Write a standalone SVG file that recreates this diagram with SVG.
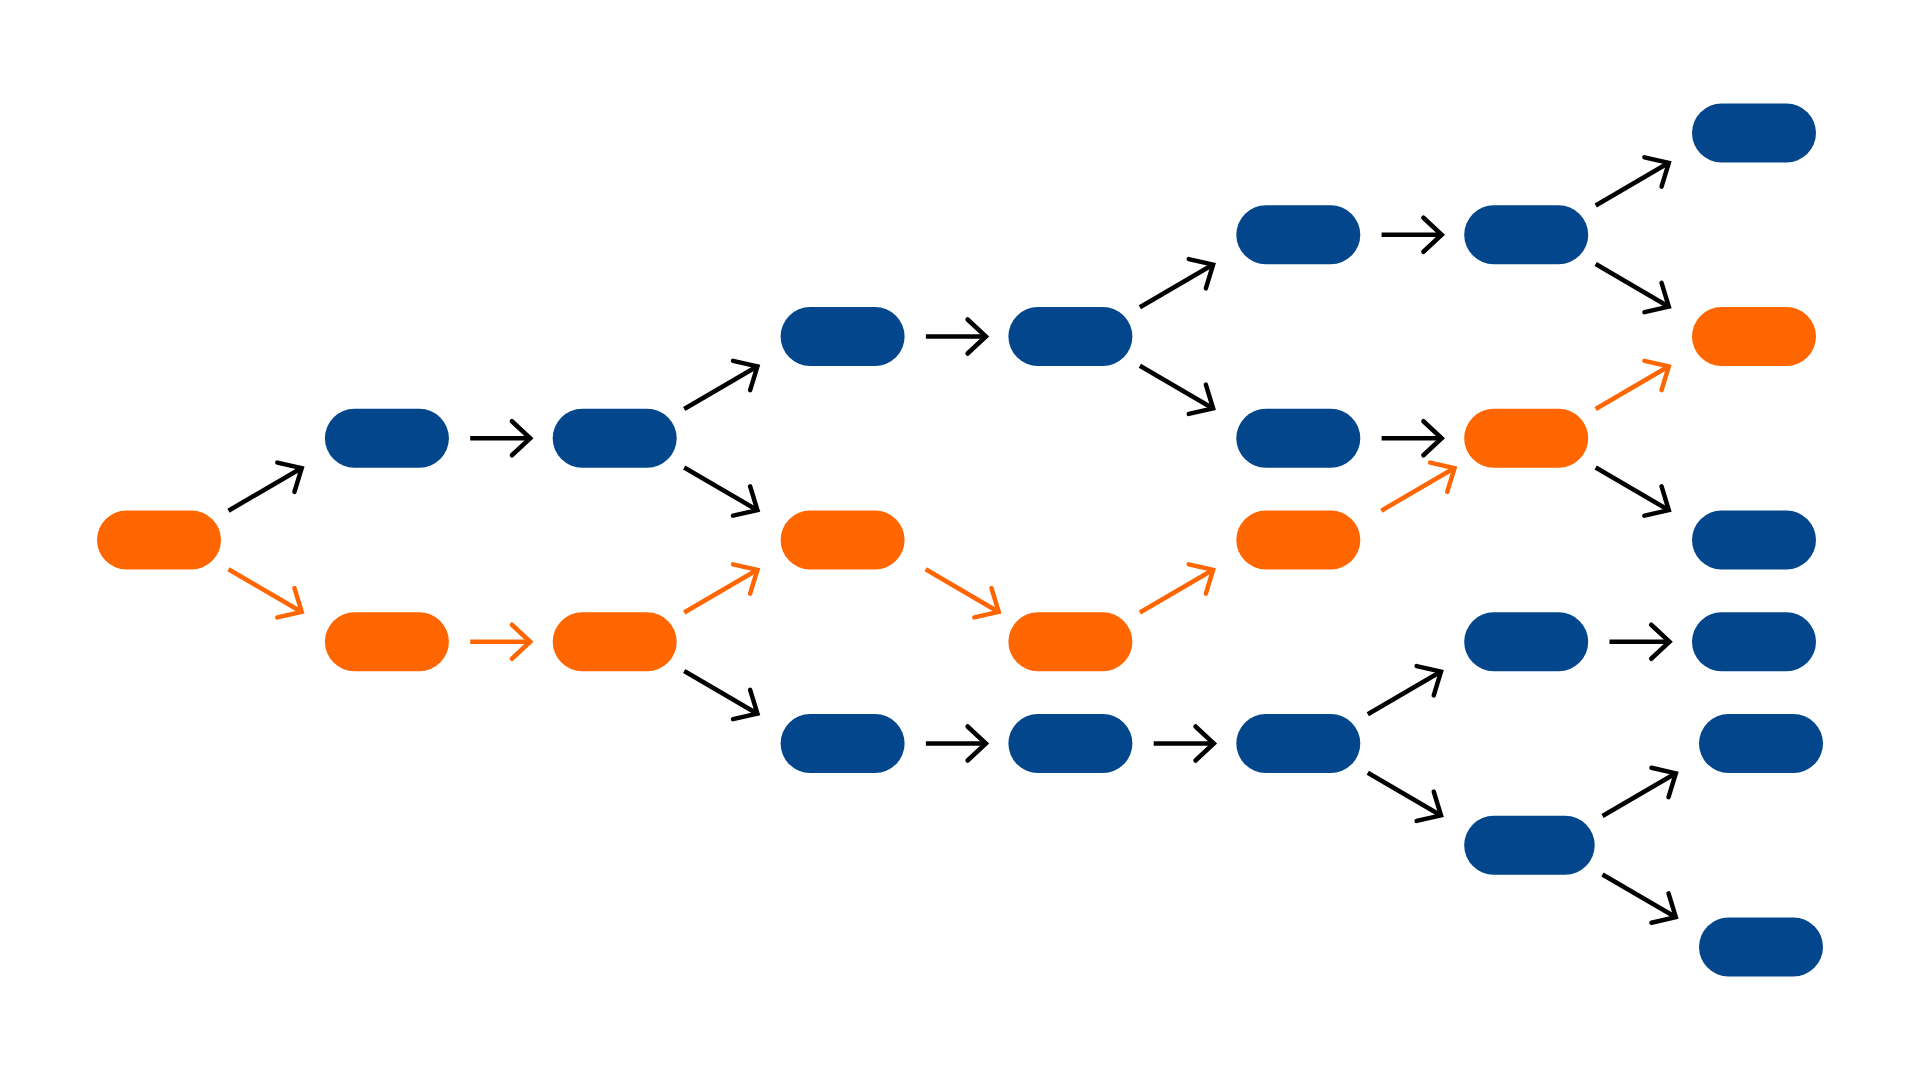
<svg xmlns="http://www.w3.org/2000/svg" width="1920" height="1080" viewBox="0 0 1920 1080">
<style>
.b{fill:#03468c}
.o{fill:#ff6600}
.k{stroke:#000000;stroke-width:4.5;fill:none;marker-end:url(#ak)}
.or{stroke:#ff6600;stroke-width:4.5;fill:none;marker-end:url(#ao)}
</style>
<defs>
<marker id="ak" markerUnits="userSpaceOnUse" viewBox="-30 -30 60 60" markerWidth="60" markerHeight="60" refX="0" refY="0" orient="auto" overflow="visible">
<path d="M-18.3,-17 L0,0 L-18.3,17" fill="none" stroke="#000000" stroke-width="4.5" stroke-linecap="round" stroke-linejoin="miter"/>
</marker>
<marker id="ao" markerUnits="userSpaceOnUse" viewBox="-30 -30 60 60" markerWidth="60" markerHeight="60" refX="0" refY="0" orient="auto" overflow="visible">
<path d="M-18.3,-17 L0,0 L-18.3,17" fill="none" stroke="#ff6600" stroke-width="4.5" stroke-linecap="round" stroke-linejoin="miter"/>
</marker>
</defs>
<rect width="1920" height="1080" fill="#ffffff"/>
<g id="connectors">
<line class="k" x1="228.5" y1="510.7" x2="301.7" y2="468.05"/>
<line class="or" x1="228.5" y1="569.3" x2="301.7" y2="611.95"/>
<line class="k" x1="470.2" y1="438.25" x2="530.2" y2="438.25"/>
<line class="or" x1="470.2" y1="641.75" x2="530.2" y2="641.75"/>
<line class="k" x1="684.2" y1="408.95" x2="757.4" y2="366.3"/>
<line class="k" x1="684.2" y1="467.55" x2="757.4" y2="510.2"/>
<line class="or" x1="684.2" y1="612.45" x2="757.4" y2="569.8"/>
<line class="k" x1="684.2" y1="671.05" x2="757.4" y2="713.7"/>
<line class="k" x1="925.9" y1="336.5" x2="985.9" y2="336.5"/>
<line class="or" x1="925.6" y1="569.3" x2="998.7" y2="611.95"/>
<line class="k" x1="925.9" y1="743.5" x2="985.9" y2="743.5"/>
<line class="k" x1="1139.9" y1="307.2" x2="1213.1" y2="264.55"/>
<line class="k" x1="1139.9" y1="365.8" x2="1213.1" y2="408.45"/>
<line class="or" x1="1139.9" y1="612.45" x2="1213.1" y2="569.8"/>
<line class="k" x1="1153.7" y1="743.5" x2="1213.8" y2="743.5"/>
<line class="k" x1="1381.6" y1="234.75" x2="1441.7" y2="234.75"/>
<line class="k" x1="1381.6" y1="438.25" x2="1441.7" y2="438.25"/>
<line class="or" x1="1381.3" y1="510.7" x2="1454.5" y2="468.05"/>
<line class="k" x1="1367.8" y1="714.2" x2="1441" y2="671.55"/>
<line class="k" x1="1367.8" y1="772.8" x2="1441" y2="815.45"/>
<line class="k" x1="1595.7" y1="205.45" x2="1668.8" y2="162.8"/>
<line class="k" x1="1595.7" y1="264.05" x2="1668.8" y2="306.7"/>
<line class="or" x1="1595.7" y1="408.95" x2="1668.8" y2="366.3"/>
<line class="k" x1="1595.7" y1="467.55" x2="1668.8" y2="510.2"/>
<line class="k" x1="1609.5" y1="641.75" x2="1669.5" y2="641.75"/>
<line class="k" x1="1602.5" y1="815.95" x2="1675.8" y2="773.3"/>
<line class="k" x1="1602.5" y1="874.55" x2="1675.8" y2="917.2"/>
</g>
<g id="n0_4"><rect class="o" x="97" y="510.5" width="124" height="59" rx="29.5"/></g>
<g id="n1_3"><rect class="b" x="324.9" y="408.75" width="124" height="59" rx="29.5"/></g>
<g id="n1_5"><rect class="o" x="324.9" y="612.25" width="124" height="59" rx="29.5"/></g>
<g id="n2_3"><rect class="b" x="552.7" y="408.75" width="124" height="59" rx="29.5"/></g>
<g id="n2_5"><rect class="o" x="552.7" y="612.25" width="124" height="59" rx="29.5"/></g>
<g id="n3_2"><rect class="b" x="780.6" y="307" width="124" height="59" rx="29.5"/></g>
<g id="n3_4"><rect class="o" x="780.6" y="510.5" width="124" height="59" rx="29.5"/></g>
<g id="n3_6"><rect class="b" x="780.6" y="714" width="124" height="59" rx="29.5"/></g>
<g id="n4_2"><rect class="b" x="1008.4" y="307" width="124" height="59" rx="29.5"/></g>
<g id="n4_5"><rect class="o" x="1008.4" y="612.25" width="124" height="59" rx="29.5"/></g>
<g id="n4_6"><rect class="b" x="1008.4" y="714" width="124" height="59" rx="29.5"/></g>
<g id="n5_1"><rect class="b" x="1236.3" y="205.25" width="124" height="59" rx="29.5"/></g>
<g id="n5_3"><rect class="b" x="1236.3" y="408.75" width="124" height="59" rx="29.5"/></g>
<g id="n5_4"><rect class="o" x="1236.3" y="510.5" width="124" height="59" rx="29.5"/></g>
<g id="n5_6"><rect class="b" x="1236.3" y="714" width="124" height="59" rx="29.5"/></g>
<g id="n6_1"><rect class="b" x="1464.2" y="205.25" width="124" height="59" rx="29.5"/></g>
<g id="n6_3"><rect class="o" x="1464.2" y="408.75" width="124" height="59" rx="29.5"/></g>
<g id="n6_5"><rect class="b" x="1464.2" y="612.25" width="124" height="59" rx="29.5"/></g>
<g id="n6_7"><rect class="b" x="1464.2" y="815.75" width="130.5" height="59" rx="29.5"/></g>
<g id="n7_0"><rect class="b" x="1692" y="103.5" width="124" height="59" rx="29.5"/></g>
<g id="n7_2"><rect class="o" x="1692" y="307" width="124" height="59" rx="29.5"/></g>
<g id="n7_4"><rect class="b" x="1692" y="510.5" width="124" height="59" rx="29.5"/></g>
<g id="n7_5"><rect class="b" x="1692" y="612.25" width="124" height="59" rx="29.5"/></g>
<g id="n7_6"><rect class="b" x="1699" y="714" width="124" height="59" rx="29.5"/></g>
<g id="n7_8"><rect class="b" x="1699" y="917.5" width="124" height="59" rx="29.5"/></g>
</svg>
